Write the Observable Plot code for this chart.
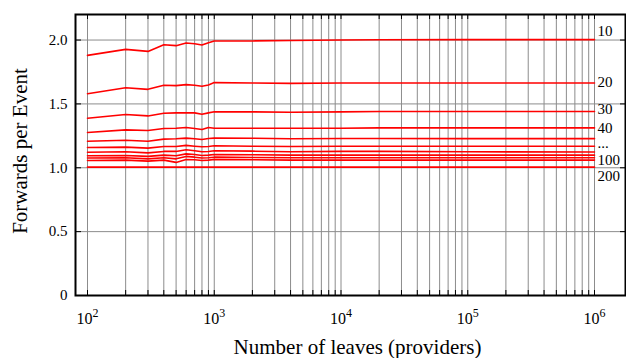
<!DOCTYPE html>
<html><head><meta charset="utf-8">
<script src="https://cdn.jsdelivr.net/npm/d3@7"></script>
<script src="https://cdn.jsdelivr.net/npm/@observablehq/plot@0.6"></script>
<style>body{margin:0;background:#fff} svg{display:block} svg text{font-family:'Liberation Serif','Times New Roman',serif}</style>
</head><body><div id="chart"></div>
<script>
// ---- data ----
const leaves = [100,200,300,400,500,600,700,800,900,1000,2000,4000,10000,20000,100000,1000000];
const seriesNames = [10,20,30,40,50,60,70,80,90,100,200];
const s10  = [1.880,1.927,1.911,1.963,1.956,1.977,1.971,1.961,1.979,1.993,1.993,1.997,2.000,2.002,2.003,2.003];
const s20  = [1.580,1.627,1.614,1.646,1.643,1.651,1.646,1.638,1.648,1.667,1.664,1.661,1.664,1.664,1.664,1.664];
const s30  = [1.388,1.417,1.406,1.427,1.430,1.430,1.430,1.419,1.430,1.438,1.438,1.435,1.438,1.440,1.440,1.440];
const s40  = [1.276,1.297,1.292,1.307,1.310,1.315,1.307,1.299,1.315,1.310,1.310,1.310,1.310,1.312,1.312,1.312];
const s50  = [1.208,1.216,1.208,1.224,1.227,1.232,1.227,1.221,1.229,1.232,1.231,1.227,1.229,1.229,1.228,1.228];
const s60  = [1.159,1.162,1.154,1.167,1.167,1.175,1.169,1.164,1.167,1.172,1.169,1.167,1.169,1.169,1.169,1.169];
const s70  = [1.122,1.125,1.117,1.128,1.128,1.141,1.133,1.125,1.128,1.133,1.130,1.125,1.128,1.128,1.125,1.123];
const s80  = [1.094,1.096,1.089,1.099,1.094,1.109,1.104,1.096,1.099,1.104,1.102,1.099,1.099,1.099,1.099,1.099];
const s90  = [1.076,1.078,1.070,1.078,1.070,1.089,1.083,1.076,1.078,1.083,1.081,1.078,1.078,1.078,1.078,1.078];
const s100 = [1.057,1.060,1.052,1.060,1.042,1.065,1.063,1.057,1.060,1.065,1.063,1.060,1.060,1.060,1.060,1.060];
const s200 = [1.005,1.005,1.005,1.005,1.005,1.005,1.005,1.005,1.005,1.005,1.005,1.005,1.005,1.005,1.005,1.005];
const seriesValues = [s10,s20,s30,s40,s50,s60,s70,s80,s90,s100,s200];
const seriesLabels = ["10","20","30","40","...","100","200"];
const labelSeries = [10,20,30,40,60,100,200];
const yTicks = [0,0.5,1.0,1.5,2.0];
const xExponents = [2,3,4,5,6];
const xTitle = "Number of leaves (providers)";
const yTitle = "Forwards per Event";

// ---- build ----
const FONT = "'Liberation Serif', 'Times New Roman', serif";
const rows = seriesNames.flatMap((n, k) => leaves.map((x, i) => ({n, x, y: seriesValues[k][i]})));
const lastX = leaves[leaves.length - 1];
const gridX = d3.range(xExponents[0], xExponents[xExponents.length-1]).flatMap(e => d3.range(1,10).map(m => m * 10 ** e)).concat([10 ** xExponents[xExponents.length-1]]);

const W = 626, H = 358, mt = 14, mb = 63, ml = 75, mr = 1;
const ph = H - mt - mb, pw = W - ml - mr;
const dec = 126.75;
const labelNudge = [-8, -1, -2, 0, -2.5, 0, 9];

const labelMarks = labelSeries.map((n, i) => {
  const k = seriesNames.indexOf(n);
  const vals = seriesValues[k];
  return Plot.text([{x: lastX, y: vals[vals.length-1], t: seriesLabels[i]}], {
    x: "x", y: "y", text: "t", textAnchor: "start", lineAnchor: "middle", dx: 3, dy: labelNudge[i],
    fontSize: 15, fontFamily: FONT, fill: "black"
  });
});

const plot = Plot.plot({
  width: W, height: H, marginTop: mt, marginBottom: mb, marginLeft: ml, marginRight: mr,
  style: {fontFamily: FONT, background: "white", color: "black"},
  x: {type: "log", domain: [10 ** (2 - 12 / dec), 10 ** (6 + 31 / dec)]},
  y: {domain: [0, 2.2]},
  marks: [
    Plot.ruleX(gridX, {stroke: "#8c8c8c", strokeWidth: 1}),
    Plot.ruleY(yTicks.slice(1), {stroke: "#8c8c8c", strokeWidth: 1}),
    Plot.ruleX(gridX, {stroke: "black", insetTop: ph - 5}),
    Plot.ruleX(gridX, {stroke: "black", insetBottom: ph - 5}),
    Plot.ruleY(yTicks.slice(1), {stroke: "black", insetRight: pw - 6}),
    Plot.ruleY(yTicks.slice(1), {stroke: "black", insetLeft: pw - 5}),
    Plot.line(rows, {x: "x", y: "y", z: "n", stroke: "#ff0000", strokeWidth: 1.6}),
    ...labelMarks,
    Plot.axisY({ticks: yTicks, tickSize: 0, tickPadding: 8, tickFormat: d => d === 0 ? "0" : d.toFixed(1), fontSize: 15, fontFamily: FONT, label: null}),
    Plot.axisX({ticks: xExponents.map(e => 10 ** e), tickSize: 0, tickPadding: 17, tickFormat: d => "10|" + Math.round(Math.log10(d)), fontSize: 16, fontFamily: FONT, label: null}),
    Plot.frame({stroke: "black", strokeWidth: 2}),
    Plot.text([xTitle], {frameAnchor: "bottom", textAnchor: "middle", lineAnchor: "middle", dx: 7, dy: 52, fontSize: 21, fontFamily: FONT, fill: "black"}),
    Plot.text([yTitle], {frameAnchor: "left", textAnchor: "middle", lineAnchor: "middle", rotate: -90, dx: -55, dy: -4, fontSize: 21, fontFamily: FONT, fill: "black"})
  ]
});

d3.select(plot).selectAll('g[aria-label="x-axis tick label"] text').each(function() {
  const parts = this.textContent.split("|");
  if (parts.length !== 2) return;
  const t = d3.select(this);
  t.text(parts[0]);
  t.append("tspan").attr("dy", "-0.55em").attr("font-size", "12px").text(parts[1]);
});

document.getElementById("chart").appendChild(plot);
</script>
</body></html>
